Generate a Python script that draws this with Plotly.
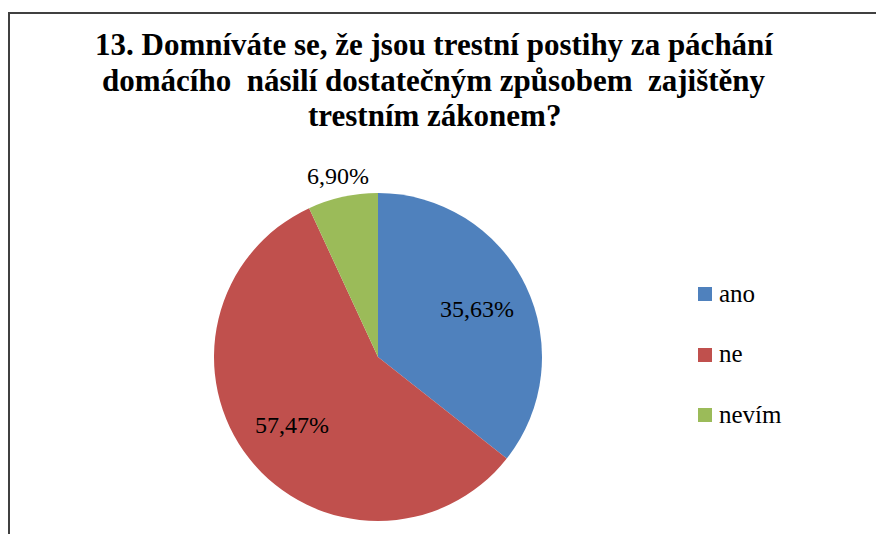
import math
import plotly.graph_objects as go

categories = ["ano", "ne", "nevím"]
values = [35.63, 57.47, 6.90]
colors = ["#4F81BD", "#C0504D", "#9BBB59"]
label_inside = [True, True, False]
title_lines = [
    "13. Domníváte se, že jsou trestní postihy za páchání",
    "domácího  násilí dostatečným způsobem  zajištěny",
    "trestním zákonem?",
]

SERIF = "serif"
OFF = 8  # page body margin
W, H = 884 - OFF, 534 - OFF
cx, cy, R = 378 - OFF, 357 - OFF, 164


def px2x(px):
    return (px - OFF) / W


def px2y(py):
    return 1 - (py - OFF) / H


fig = go.Figure()
fig.add_trace(go.Pie(
    labels=categories,
    values=values,
    sort=False,
    direction="clockwise",
    rotation=0,
    marker=dict(colors=colors, line=dict(width=0)),
    textinfo="none",
    domain=dict(x=[(cx - R) / W, (cx + R) / W], y=[(H - cy - R) / H, (H - cy + R) / H]),
    showlegend=False,
    hoverinfo="label+percent",
))

annotations = []

# data labels at slice mid-angles (Excel-style positions)
total = sum(values)
cum = 0.0
for v, inside in zip(values, label_inside):
    mid = (cum + v / 2) / total * 2 * math.pi
    cum += v
    r = R * (0.67 if inside else 1.13)
    lx = cx + r * math.sin(mid)
    ly = cy - r * math.cos(mid)
    annotations.append(dict(
        x=lx / W, y=1 - ly / H, xref="paper", yref="paper",
        text=f"{v:.2f}".replace(".", ",") + "%",
        showarrow=False, xanchor="center", yanchor="middle",
        font=dict(family=SERIF, size=24, color="#000000"),
    ))

# title
title_y = [45, 80, 116]
for line, ty in zip(title_lines, title_y):
    annotations.append(dict(
        x=px2x(434), y=px2y(ty), xref="paper", yref="paper",
        text="<b>" + line + "</b>", showarrow=False,
        xanchor="center", yanchor="middle",
        font=dict(family=SERIF, size=31, color="#000000"),
    ))

# legend (colour squares + labels)
LEG_Y0, LEG_GAP = 294, 60.5
for i, (cat, col) in enumerate(zip(categories, colors)):
    ly = LEG_Y0 + i * LEG_GAP
    annotations.append(dict(
        x=px2x(705), y=px2y(ly), xref="paper", yref="paper",
        text=" ", showarrow=False, xanchor="center", yanchor="middle",
        width=14, height=14, bgcolor=col, borderpad=0, borderwidth=0,
        font=dict(family=SERIF, size=1),
    ))
    annotations.append(dict(
        x=px2x(717), y=px2y(ly - 1), xref="paper", yref="paper",
        text=cat, showarrow=False, xanchor="left", yanchor="middle",
        font=dict(family=SERIF, size=25, color="#000000"),
    ))

# chart frame (top and left edges)
annotations.append(dict(
    x=0, y=px2y(13), xref="paper", yref="paper", text=" ", showarrow=False,
    xanchor="left", yanchor="middle", width=W, height=2, bgcolor="#404040",
    borderpad=0, borderwidth=0, font=dict(family=SERIF, size=1),
))
annotations.append(dict(
    x=0, y=px2y(13), xref="paper", yref="paper", text=" ", showarrow=False,
    xanchor="left", yanchor="top", width=2, height=H, bgcolor="#404040",
    borderpad=0, borderwidth=0, font=dict(family=SERIF, size=1),
))

fig.update_layout(
    width=W, height=H,
    margin=dict(l=0, r=0, t=0, b=0),
    font=dict(family=SERIF),
    annotations=annotations,
)

fig.write_html("out.html")
